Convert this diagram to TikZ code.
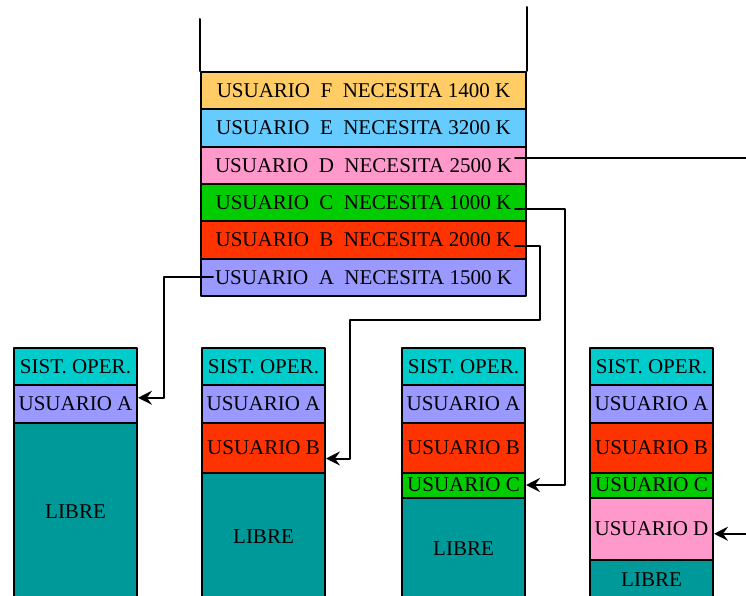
\documentclass[tikz,border=0pt]{standalone}
\usepackage{fontspec}
\setmainfont{Liberation Serif}
\usetikzlibrary{arrows.meta}
\definecolor{userF}{HTML}{FFCC66}
\definecolor{userE}{HTML}{66CCFF}
\definecolor{userD}{HTML}{FF99CC}
\definecolor{userC}{HTML}{00CC00}
\definecolor{userB}{HTML}{FF3300}
\definecolor{userA}{HTML}{9999FF}
\definecolor{sysop}{HTML}{00CCCC}
\definecolor{free}{HTML}{009999}
\tikzset{
  cell/.style={draw, line width=2pt, anchor=north west, inner sep=0pt,
    minimum width=123pt, font=\fontsize{21}{24}\selectfont},
  queue/.style={cell, minimum width=325pt, minimum height=37.33pt},
  link/.style={line width=2pt, -{Stealth[length=14pt,width=14pt,inset=5pt]}},
}
\begin{document}
\begin{tikzpicture}[x=1pt, y=-1pt, line cap=round, line join=round]
    \useasboundingbox (0,0) rectangle (746,596);
    \clip (0,0) rectangle (746,596);
    % waiting queue
    \foreach \u/\k/\c [count=\i from 0] in {F/1400/userF, E/3200/userE, D/2500/userD, C/1000/userC, B/2000/userB, A/1500/userA}
      \node[queue, fill=\c] (q\u) at (200,71+\i*37.33) {USUARIO\ \ \u\ \ NECESITA \k\ K};
    \draw[line width=2pt] (qF.north west) -- ++(0,-52);
    \draw[line width=2pt] (qF.north east) -- ++(0,-64);
    % memory columns
    \foreach \x [count=\n] in {13,201,401,589} {
      \node[cell, fill=sysop, minimum height=37pt] (s\n) at (\x,347) {SIST. OPER.};
      \node[cell, fill=userA, minimum height=37.5pt] (a\n) at (\x,384) {USUARIO A};
    }
    \foreach \x [count=\n from 2] in {201,401,589}
      \node[cell, fill=userB, minimum height=50pt] (b\n) at (\x,421.5) {USUARIO B};
    \foreach \x [count=\n from 3] in {401,589}
      \node[cell, fill=userC, minimum height=25pt] (c\n) at (\x,471.5) {USUARIO C};
    \node[cell, fill=userD, minimum height=62.5pt] (d4) at (589,496.5) {USUARIO D};
    \node[cell, fill=free, minimum height=177.5pt] (l1) at (13,421.5) {LIBRE};
    \node[cell, fill=free, minimum height=127.5pt] (l2) at (201,471.5) {LIBRE};
    \node[cell, fill=free, minimum height=102.5pt] (l3) at (401,496.5) {LIBRE};
    \node[cell, fill=free, minimum height=40pt] (l4) at (589,559) {LIBRE};
    % loading
    \draw[link] ([xshift=13pt]qA.west) -| ([xshift=26pt,yshift=6pt]a1.east) -- ([yshift=6pt]a1.east);
    \draw[link] ([xshift=-12pt,yshift=-6pt]qB.east) -- ++(25,0) |- (350,320) |- ([yshift=-11pt]b2.east);
    \draw[link] ([xshift=-12pt,yshift=-6pt]qC.east) -- ++(50,0) |- (c3.east);
    \draw[link] ([xshift=-12pt,yshift=7pt]qD.east) -- ++(260,0) |- ([yshift=-5pt]d4.east);
  \end{tikzpicture}
\end{document}
